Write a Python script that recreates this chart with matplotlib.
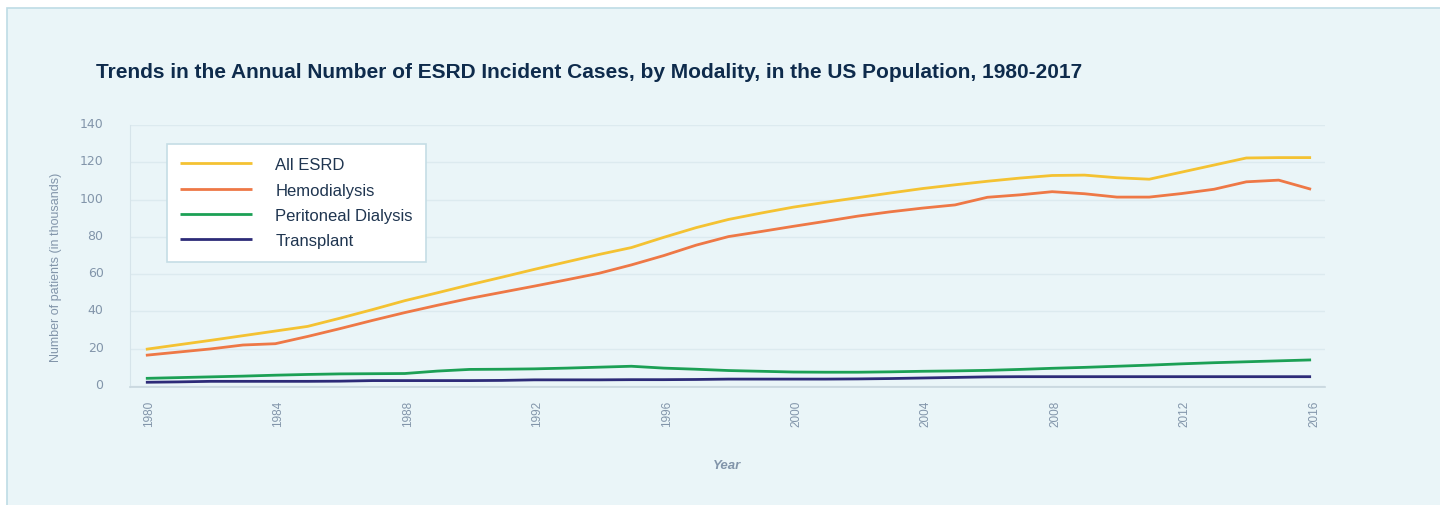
import matplotlib
matplotlib.use("Agg")
import matplotlib.pyplot as plt
from matplotlib.patches import Rectangle
from matplotlib.transforms import ScaledTranslation

# incident ESRD patients per year, in thousands
years = list(range(1980, 2017))
all_esrd = [19.6, 22.0, 24.4, 26.9, 29.4, 31.9, 36.3, 40.9, 45.7, 49.9,
            54.2, 58.3, 62.5, 66.5, 70.5, 74.2, 79.7, 84.9, 89.3, 92.7,
            95.9, 98.5, 101.0, 103.5, 105.9, 107.9, 109.8, 111.5, 112.9, 113.1,
            111.7, 110.9, 114.7, 118.5, 122.3, 122.5, 122.5]
hemodialysis = [16.4, 18.1, 19.8, 21.9, 22.6, 26.5, 30.7, 35.1, 39.3, 43.2,
                46.9, 50.2, 53.5, 56.9, 60.4, 64.9, 69.9, 75.5, 80.1, 82.8,
                85.6, 88.3, 91.1, 93.4, 95.4, 97.1, 101.2, 102.5, 104.2, 103.1,
                101.3, 101.3, 103.2, 105.5, 109.5, 110.4, 105.5]
peritoneal = [4.0, 4.4, 4.8, 5.2, 5.7, 6.1, 6.4, 6.5, 6.6, 7.9,
              8.8, 8.9, 9.1, 9.5, 10.0, 10.5, 9.5, 8.9, 8.2, 7.8,
              7.4, 7.3, 7.3, 7.5, 7.8, 8.0, 8.3, 8.8, 9.4, 9.9,
              10.5, 11.1, 11.8, 12.4, 12.9, 13.4, 13.9]
transplant = [1.9, 2.1, 2.4, 2.4, 2.4, 2.4, 2.5, 2.8, 2.8, 2.8,
              2.8, 2.9, 3.2, 3.2, 3.2, 3.3, 3.3, 3.4, 3.6, 3.6,
              3.6, 3.6, 3.7, 3.9, 4.2, 4.5, 4.8, 4.9, 4.9, 4.9,
              4.9, 4.9, 4.9, 4.9, 4.9, 4.9, 4.9]
series_names = ["All ESRD", "Hemodialysis", "Peritoneal Dialysis", "Transplant"]
series_colors = ["#F4C232", "#EE7846", "#1CA055", "#2D2B78"]
x_ticks = list(range(1980, 2017, 4))
y_ticks = list(range(0, 141, 20))

font = ["Liberation Sans", "DejaVu Sans"]
grey = "#8295AA"

fig = plt.figure(figsize=(14.4, 5.06), dpi=100)
fig.patch.set_facecolor("white")

# light blue panel behind everything
fig.patches.append(Rectangle((7 / 1440, -0.1), 1.1, 1.1 - 9 / 506, transform=fig.transFigure,
                             facecolor="#EAF5F8", edgecolor="#BEDCE5", linewidth=1.2, zorder=-10))

ax = fig.add_axes([130 / 1440, 1 - 388.3 / 506, 1195 / 1440, 262.3 / 506])
ax.set_facecolor("none")
ax.set_zorder(2)

for vals, name, col in zip([all_esrd, hemodialysis, peritoneal, transplant], series_names, series_colors):
    ax.plot(years, vals, color=col, linewidth=2.0, label=name, solid_capstyle="butt")

ax.set_xlim(1979.51, 2016.43)
ax.set_ylim(-0.8, 140)

ax.set_yticks(y_ticks)
ax.set_yticklabels([str(v) for v in y_ticks], fontsize=9, color=grey)
ax.set_xticks(x_ticks)
ax.set_xticklabels([str(v) for v in x_ticks], rotation=90, fontsize=8.5, color=grey, family=font)
ax.tick_params(axis="both", length=0)
ax.tick_params(axis="y", pad=19)
ax.tick_params(axis="x", pad=9)

# labels in the original sit a few pixels off their ticks
for lab in ax.get_yticklabels():
    lab.set_transform(lab.get_transform() + ScaledTranslation(0, 3 / 100, fig.dpi_scale_trans))
for lab in ax.get_xticklabels():
    lab.set_transform(lab.get_transform() + ScaledTranslation(3 / 100, 0, fig.dpi_scale_trans))

ax.grid(axis="y", color="#DCEAEF", linewidth=1.0)
ax.set_axisbelow(True)
for side in ["top", "right"]:
    ax.spines[side].set_visible(False)
ax.spines["left"].set_color("#D6E4EA")
ax.spines["bottom"].set_color("#C8D6DE")
ax.spines["bottom"].set_linewidth(1.2)

leg = ax.legend(loc="upper left", bbox_to_anchor=(0.031, 0.928), borderaxespad=0,
                prop={"family": font, "size": 12}, handlelength=4.3, handletextpad=1.4,
                labelspacing=0.62, borderpad=0.8, fancybox=False, framealpha=1)
leg.get_frame().set_edgecolor("#C5DDE5")
leg.get_frame().set_linewidth(1.2)
for t in leg.get_texts():
    t.set_color("#1F3550")

fig.text(96 / 1440, 1 - 73 / 506,
         "Trends in the Annual Number of ESRD Incident Cases, by Modality, in the US Population, 1980-2017",
         family=font, fontsize=15, fontweight="bold", color="#0E2B4C", ha="left", va="center")
fig.text(56 / 1440, 1 - 267 / 506, "Number of patients (in thousands)", family=font, fontsize=9,
         color=grey, rotation=90, ha="center", va="center")
fig.text(727 / 1440, 1 - 466 / 506, "Year", family=font, fontsize=9.5, fontweight="bold",
         fontstyle="italic", color=grey, ha="center", va="center")

fig.savefig("out.png", dpi=100, facecolor=fig.get_facecolor())
